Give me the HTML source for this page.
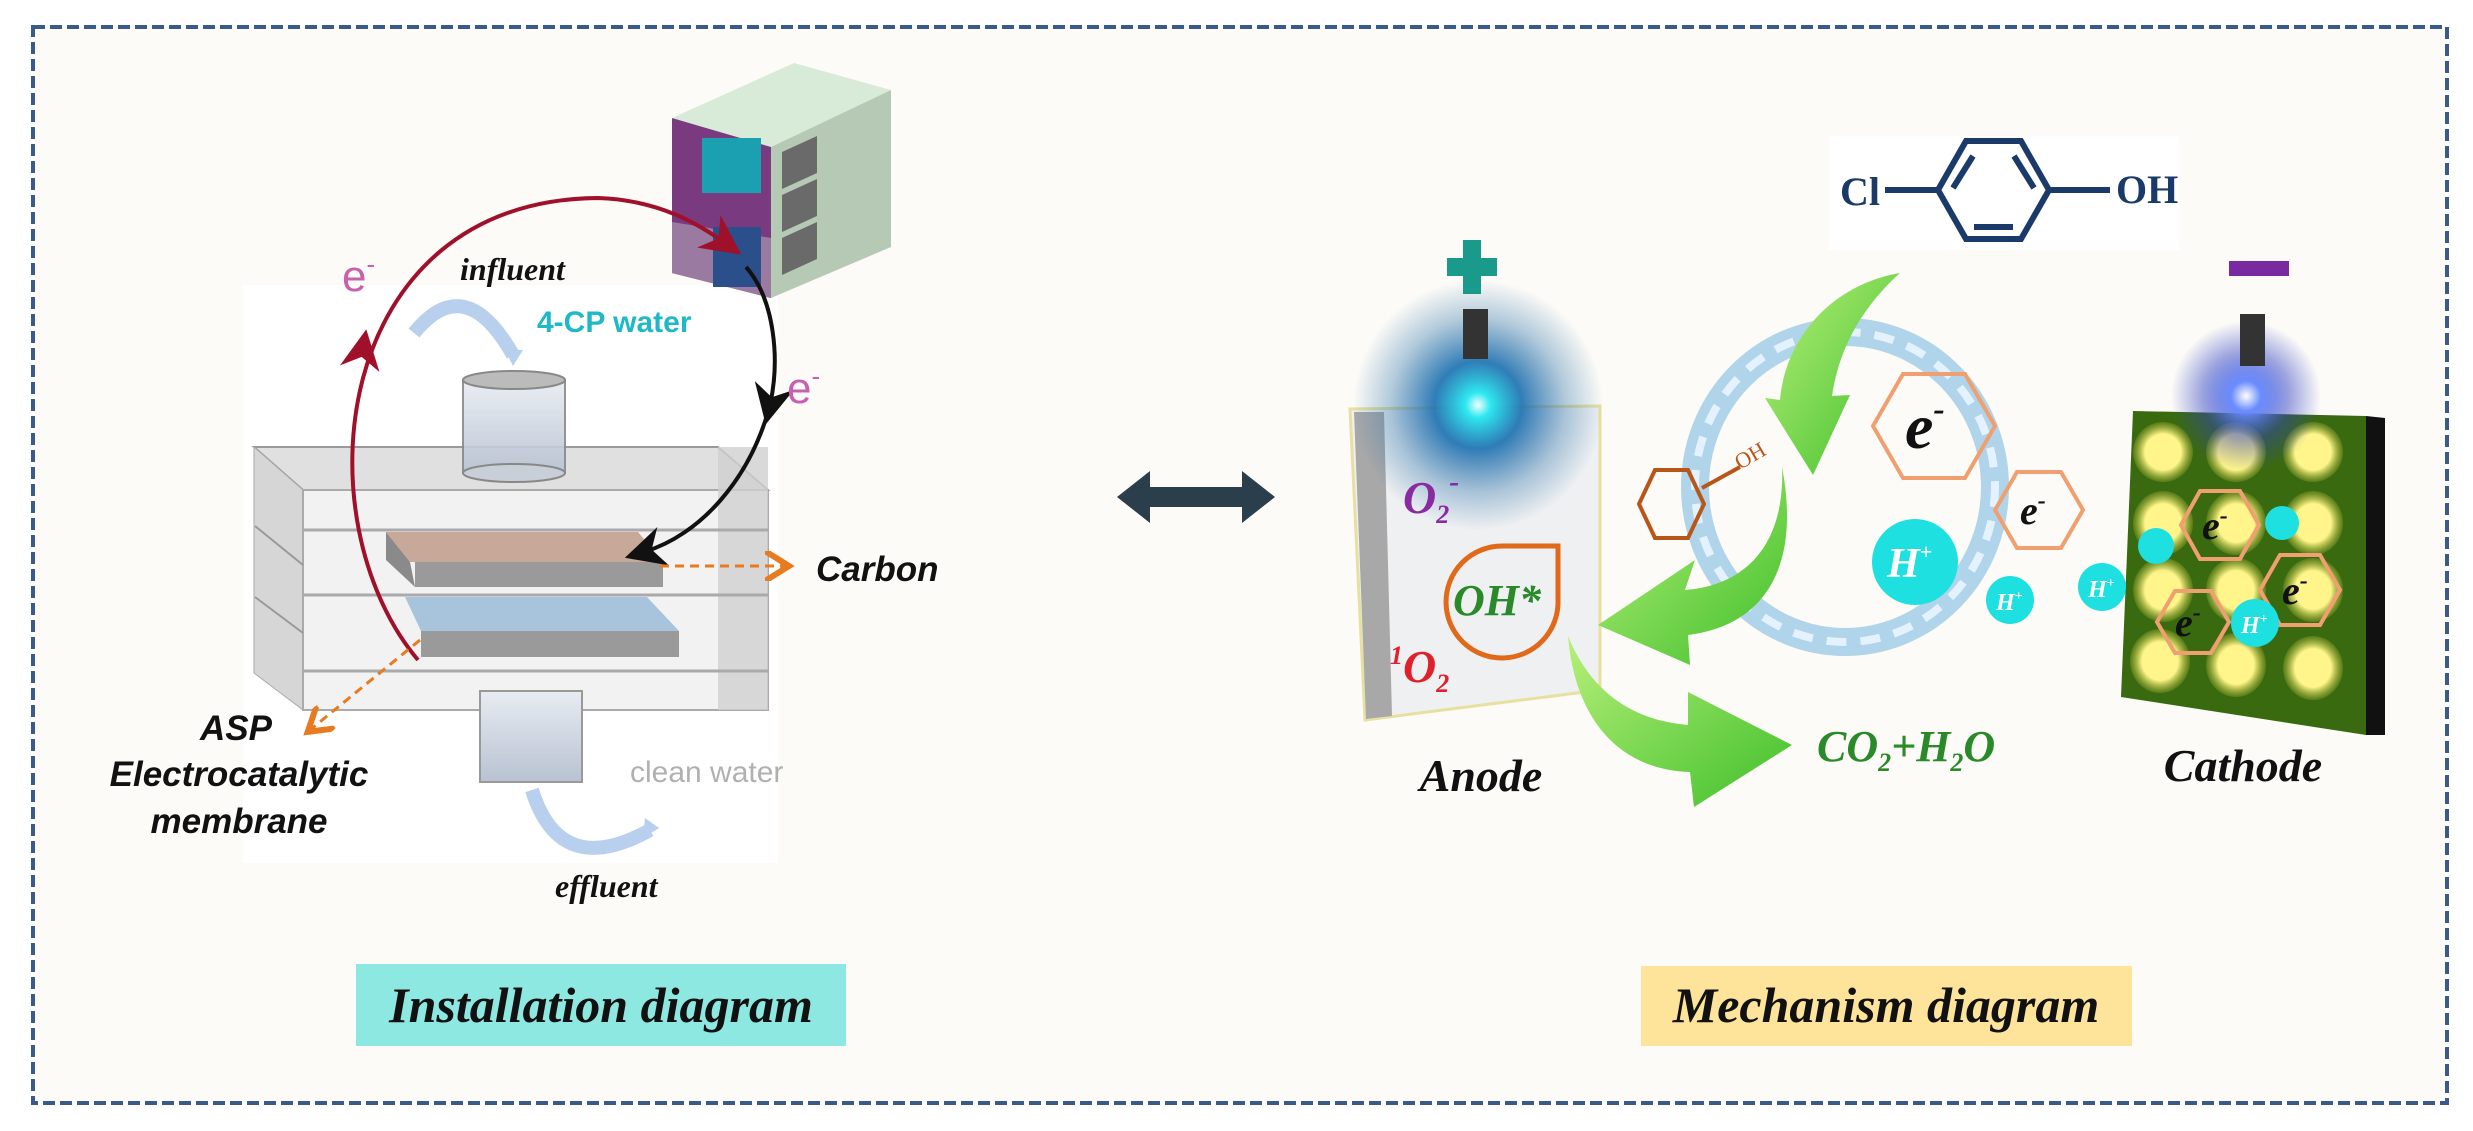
<!DOCTYPE html>
<html><head><meta charset="utf-8"><style>
html,body{margin:0;padding:0;background:#fff;width:2473px;height:1131px;overflow:hidden}
svg{display:block}
.s{font-family:"Liberation Serif",serif;font-style:italic;font-weight:bold}
.a{font-family:"Liberation Sans",sans-serif}
</style></head><body>
<svg width="2473" height="1131" viewBox="0 0 2473 1131" xmlns="http://www.w3.org/2000/svg">
<defs>
<radialGradient id="glowA"><stop offset="0" stop-color="#f0ffff"/><stop offset="0.1" stop-color="#2fe8f0"/><stop offset="0.35" stop-color="#1a6fb0" stop-opacity="0.9"/><stop offset="0.7" stop-color="#2a70a8" stop-opacity="0.35"/><stop offset="1" stop-color="#2a70a8" stop-opacity="0"/></radialGradient>
<radialGradient id="glowC"><stop offset="0" stop-color="#fff"/><stop offset="0.2" stop-color="#6a8cff"/><stop offset="0.6" stop-color="#3040c0" stop-opacity="0.45"/><stop offset="1" stop-color="#3040c0" stop-opacity="0"/></radialGradient>
<radialGradient id="yc"><stop offset="0.6" stop-color="#fff58a"/><stop offset="1" stop-color="#c8c840" stop-opacity="0.2"/></radialGradient>
<linearGradient id="garr" x1="0" y1="0" x2="1" y2="1"><stop offset="0" stop-color="#b8f07a"/><stop offset="1" stop-color="#3fbf2a"/></linearGradient>
<linearGradient id="cyl" x1="0" y1="0" x2="0" y2="1"><stop offset="0" stop-color="#e8ecf2"/><stop offset="1" stop-color="#b8c2d2"/></linearGradient>
<marker id="mr" markerWidth="10" markerHeight="10" refX="5" refY="5" orient="auto"><path d="M0,0 L10,5 L0,10 L3,5 z" fill="#a0102a"/></marker>
<marker id="mk" markerWidth="10" markerHeight="10" refX="5" refY="5" orient="auto"><path d="M0,0 L10,5 L0,10 L3,5 z" fill="#111"/></marker>
<marker id="mo" markerWidth="10" markerHeight="10" refX="7" refY="5" orient="auto"><path d="M0,0 L8,5 L0,10" fill="none" stroke="#e87a20" stroke-width="2"/></marker>
</defs>
<rect width="2473" height="1131" fill="#fff"/>
<rect x="33" y="27" width="2414" height="1076" fill="#fcfbf7" stroke="#3a5a8a" stroke-width="4" stroke-dasharray="12 5"/>

<!-- left white panel -->
<rect x="243" y="285" width="535" height="578" fill="#ffffff"/>
<!-- power supply -->
<polygon points="672,118 794,63 891,90 771,147" fill="#d8ead8"/>
<polygon points="771,147 891,90 891,247 771,298" fill="#b5c9b5"/>
<polygon points="672,118 771,147 771,298 672,273" fill="#7a3a80"/>
<polygon points="672,222 771,238 771,298 672,273" fill="#9a7aa0"/>
<rect x="702" y="138" width="59" height="55" fill="#1aa0b0"/>
<rect x="713" y="227" width="48" height="60" fill="#2a4f8a"/>
<g fill="#6a6a6a"><polygon points="782,152 817,136 817,173 782,189"/><polygon points="782,195 817,179 817,216 782,232"/><polygon points="782,238 817,222 817,259 782,275"/></g>
<!-- cell box -->
<polygon points="254,447 718,447 768,490 303,490" fill="#e0e0e0" stroke="#999" stroke-width="2"/>
<polygon points="254,447 303,490 303,710 254,673" fill="#d6d6d6" stroke="#aaa"/>
<rect x="303" y="490" width="465" height="220" fill="#f2f2f2" stroke="#aaa" stroke-width="2"/>
<rect x="718" y="447" width="50" height="263" fill="#d0d0d0" opacity="0.8"/>
<line x1="303" y1="530" x2="768" y2="530" stroke="#aaa" stroke-width="3"/>
<line x1="303" y1="595" x2="768" y2="595" stroke="#aaa" stroke-width="3"/>
<line x1="303" y1="671" x2="768" y2="671" stroke="#aaa" stroke-width="3"/>
<line x1="255" y1="526" x2="303" y2="565" stroke="#999" stroke-width="2"/>
<line x1="255" y1="597" x2="303" y2="633" stroke="#999" stroke-width="2"/>
<polygon points="386,532 638,532 663,562 410,562" fill="#c8a898"/>
<polygon points="386,532 410,562 415,587 386,560" fill="#8a8a8a"/>
<rect x="415" y="562" width="248" height="25" fill="#9a9a9a"/>
<polygon points="405,597 647,597 679,631 421,631" fill="#a8c4dc"/>
<rect x="421" y="631" width="258" height="26" fill="#9a9a9a"/>
<!-- cylinders -->
<rect x="463" y="380" width="102" height="93" fill="url(#cyl)" stroke="#888" stroke-width="2" opacity="0.9"/>
<ellipse cx="514" cy="380" rx="51" ry="9" fill="#bbb" stroke="#888" stroke-width="2"/>
<ellipse cx="514" cy="473" rx="51" ry="9" fill="#c8cfd8" stroke="#888" stroke-width="2"/>
<rect x="480" y="691" width="102" height="91" fill="url(#cyl)" stroke="#999" stroke-width="2"/>
<!-- flow arrows -->
<path d="M414,333 Q465,270 513,355" fill="none" stroke="#b8cfee" stroke-width="14"/>
<path d="M505,350 l18,0 l-10,16 z" fill="#b8cfee"/>
<path d="M532,790 Q560,880 650,830" fill="none" stroke="#b8cfee" stroke-width="14"/>
<path d="M645,818 l14,10 l-16,10 z" fill="#b8cfee"/>
<!-- circuit arcs -->
<path d="M418,660 C300,520 330,200 598,198 C660,200 700,225 725,243" fill="none" stroke="#a0102a" stroke-width="4" marker-end="url(#mr)"/>
<path d="M362,355 l1,-6" stroke="#a0102a" stroke-width="4" marker-end="url(#mr)"/>
<path d="M746,267 C775,300 780,360 770,405" fill="none" stroke="#111" stroke-width="4" marker-end="url(#mk)"/>
<path d="M770,405 C750,480 700,535 644,552" fill="none" stroke="#111" stroke-width="4" marker-end="url(#mk)"/>
<!-- orange dashed -->
<line x1="660" y1="566" x2="786" y2="566" stroke="#e87a20" stroke-width="3" stroke-dasharray="9 6" marker-end="url(#mo)"/>
<line x1="420" y1="640" x2="310" y2="730" stroke="#e87a20" stroke-width="3" stroke-dasharray="9 6" marker-end="url(#mo)"/>
<!-- left text -->
<text x="342" y="291" class="a" font-size="44" fill="#c860b0">e<tspan font-size="26" dy="-18">-</tspan></text>
<text x="787" y="403" class="a" font-size="44" fill="#c860b0">e<tspan font-size="26" dy="-18">-</tspan></text>
<text x="460" y="280" class="s" font-size="32" fill="#111">influent</text>
<text x="537" y="332" class="a" font-size="30" font-weight="bold" fill="#20b8c8">4-CP water</text>
<text x="816" y="581" class="a" font-size="35" font-weight="bold" font-style="italic" fill="#111">Carbon</text>
<text x="200" y="740" class="a" font-size="35" font-weight="bold" font-style="italic" fill="#111">ASP</text>
<text x="239" y="786" class="a" font-size="35" font-weight="bold" font-style="italic" fill="#111" text-anchor="middle">Electrocatalytic</text>
<text x="239" y="833" class="a" font-size="35" font-weight="bold" font-style="italic" fill="#111" text-anchor="middle">membrane</text>
<text x="630" y="782" class="a" font-size="30" fill="#b0b0b0">clean water</text>
<text x="555" y="897" class="s" font-size="32" fill="#111">effluent</text>
<rect x="356" y="964" width="490" height="82" fill="#8ee8e2"/>
<text x="601" y="1022" class="s" font-size="50" fill="#111" text-anchor="middle">Installation diagram</text>

<!-- double arrow -->
<path d="M1117,497 L1150,471 L1150,487 L1242,487 L1242,471 L1275,497 L1242,523 L1242,507 L1150,507 L1150,523 z" fill="#2a3e4c"/>

<!-- chem -->
<rect x="1829" y="136" width="350" height="114" fill="#fff"/>
<g stroke="#1a3a6a" stroke-width="6" fill="none">
<polygon points="1938,190 1966,141 2021,141 2049,190 2021,239 1966,239"/>
<line x1="1885" y1="190" x2="1938" y2="190"/><line x1="2049" y1="190" x2="2110" y2="190"/>
<line x1="1953" y1="188" x2="1973" y2="156"/><line x1="2014" y1="156" x2="2034" y2="188"/><line x1="1974" y1="227" x2="2013" y2="227"/>
</g>
<text x="1840" y="205" font-family="Liberation Serif,serif" font-size="40" font-weight="bold" fill="#1a3a6a">Cl</text>
<text x="2116" y="203" font-family="Liberation Serif,serif" font-size="40" font-weight="bold" fill="#1a3a6a">OH</text>

<!-- anode -->
<polygon points="1350,409 1600,406 1600,690 1365,720" fill="#eef0f2" stroke="#e8e0a0" stroke-width="3"/>
<polygon points="1354,412 1384,412 1392,716 1366,719" fill="#a8a8a8"/>
<circle cx="1478" cy="405" r="125" fill="url(#glowA)"/>
<rect x="1463" y="309" width="25" height="50" fill="#333"/>
<rect x="1447" y="258" width="50" height="18" fill="#1a9a8a"/><rect x="1463" y="240" width="18" height="54" fill="#1a9a8a"/>
<path d="M1558,546 L1558,600 A56,56 0 1,1 1502,546 z" fill="none" stroke="#e06a1a" stroke-width="5"/>
<text x="1403" y="513" class="s" font-size="46" fill="#8a2aa0">O<tspan font-size="26" dy="10">2</tspan><tspan font-size="30" dy="-32">-</tspan></text>
<text x="1453" y="615" class="s" font-size="44" fill="#2a8a2a">OH*</text>
<text x="1390" y="682" class="s" font-size="46" fill="#e0202a"><tspan font-size="26" dy="-18">1</tspan><tspan dy="18">O</tspan><tspan font-size="26" dy="10">2</tspan></text>

<!-- water ring -->
<ellipse cx="1845" cy="487" rx="150" ry="155" fill="none" stroke="#9ccbe6" stroke-width="28" opacity="0.8"/>
<ellipse cx="1845" cy="487" rx="150" ry="155" fill="none" stroke="#e4f2ff" stroke-width="8" stroke-dasharray="20 14"/>
<!-- phenol -->
<polygon points="1639,504 1655,470 1688,470 1704,504 1688,538 1655,538" fill="none" stroke="#b8561a" stroke-width="4"/>
<line x1="1702" y1="488" x2="1740" y2="467" stroke="#b8561a" stroke-width="4"/>
<text x="1740" y="470" font-family="Liberation Serif,serif" font-size="22" fill="#b8561a" transform="rotate(-30 1740 470)">OH</text>
<!-- green arrows -->
<path d="M1900,273 C1830,285 1785,340 1780,400 L1765,398 L1813,475 L1850,395 L1832,396 C1840,340 1870,300 1900,273 z" fill="url(#garr)"/>
<path d="M1782,467 C1785,540 1750,585 1685,590 L1695,560 L1598,625 L1690,665 L1688,635 C1770,625 1800,560 1782,467 z" fill="url(#garr)"/>
<path d="M1568,636 C1575,720 1620,770 1690,772 L1694,807 L1792,745 L1688,692 L1688,725 C1630,720 1590,690 1568,636 z" fill="url(#garr)"/>
<text x="1817" y="761" class="s" font-size="44" fill="#2a8a2a">CO<tspan font-size="26" dy="10">2</tspan><tspan dy="-10">+H</tspan><tspan font-size="26" dy="10">2</tspan><tspan dy="-10">O</tspan></text>
<text x="1481" y="791" class="s" font-size="46" fill="#111" text-anchor="middle">Anode</text>

<!-- cathode -->
<polygon points="2133,411 2366,416 2366,735 2121,697" fill="#3a6a10"/>
<polygon points="2366,416 2385,418 2385,735 2366,735" fill="#111"/>
<g fill="url(#yc)">
<ellipse cx="2163" cy="452" rx="30" ry="30"/><ellipse cx="2236" cy="452" rx="30" ry="30"/><ellipse cx="2313" cy="452" rx="30" ry="30"/>
<ellipse cx="2163" cy="523" rx="30" ry="32"/><ellipse cx="2236" cy="523" rx="30" ry="32"/><ellipse cx="2313" cy="523" rx="30" ry="32"/>
<ellipse cx="2163" cy="590" rx="30" ry="32"/><ellipse cx="2236" cy="590" rx="30" ry="32"/><ellipse cx="2313" cy="590" rx="30" ry="32"/>
<ellipse cx="2160" cy="661" rx="30" ry="32"/><ellipse cx="2236" cy="665" rx="30" ry="32"/><ellipse cx="2313" cy="668" rx="30" ry="32"/>
</g>
<circle cx="2246" cy="396" r="75" fill="url(#glowC)"/>
<rect x="2240" y="314" width="25" height="52" fill="#333"/>
<rect x="2229" y="261" width="60" height="15" fill="#7a2aa0"/>
<text x="2243" y="781" class="s" font-size="46" fill="#111" text-anchor="middle">Cathode</text>

<!-- hexagons -->
<g fill="none" stroke="#f0a070" stroke-width="4">
<polygon points="1873,426 1903,374 1965,374 1995,426 1965,478 1903,478"/>
<polygon points="1995,510 2017,472 2061,472 2083,510 2061,548 2017,548"/>
<polygon points="2181,525 2200,491 2240,491 2259,525 2240,559 2200,559"/>
<polygon points="2260,590 2280,555 2320,555 2340,590 2320,625 2280,625"/>
<polygon points="2157,622 2175,591 2211,591 2229,622 2211,653 2175,653"/>
</g>
<g class="s" fill="#111">
<text x="1905" y="448" font-size="64">e<tspan font-size="34" dy="-28">-</tspan></text>
<text x="2020" y="524" font-size="40">e<tspan font-size="24" dy="-16">-</tspan></text>
<text x="2202" y="539" font-size="40">e<tspan font-size="24" dy="-16">-</tspan></text>
<text x="2282" y="604" font-size="40">e<tspan font-size="24" dy="-16">-</tspan></text>
<text x="2175" y="636" font-size="40">e<tspan font-size="24" dy="-16">-</tspan></text>
</g>
<g fill="#1ee0e0">
<circle cx="1915" cy="562" r="43"/><circle cx="2010" cy="600" r="24"/><circle cx="2102" cy="587" r="24"/>
<circle cx="2156" cy="546" r="18"/><circle cx="2282" cy="523" r="17"/><circle cx="2255" cy="623" r="24"/>
</g>
<g class="s" fill="#fff">
<text x="1887" y="577" font-size="42">H<tspan font-size="22" dy="-18">+</tspan></text>
<text x="1996" y="610" font-size="24">H<tspan font-size="14" dy="-10">+</tspan></text>
<text x="2088" y="597" font-size="24">H<tspan font-size="14" dy="-10">+</tspan></text>
<text x="2241" y="633" font-size="24">H<tspan font-size="14" dy="-10">+</tspan></text>
</g>

<rect x="1641" y="966" width="491" height="80" fill="#fde49a"/>
<text x="1886" y="1022" class="s" font-size="50" fill="#111" text-anchor="middle">Mechanism diagram</text>
</svg>
</body></html>
